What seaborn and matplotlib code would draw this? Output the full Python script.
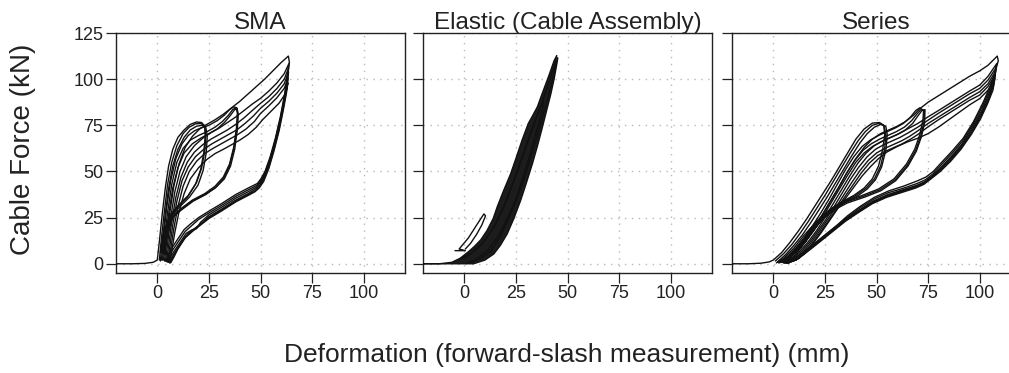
import numpy as np
import pandas as pd
import matplotlib
matplotlib.use("Agg")
import matplotlib.pyplot as plt
import seaborn as sns

# ---------------- data ----------------
panel_titles = ["SMA", "Elastic (Cable Assembly)", "Series"]
x_ticks = [0, 25, 50, 75, 100]
y_ticks = [0, 25, 50, 75, 100, 125]
x_label = "Deformation (forward-slash measurement) (mm)"
y_label = "Cable Force (kN)"

# --- SMA panel: small cycles (peak ~76 kN) ---
sma_s1_x = [-20, -12, -6, -2, 0, 1, 2.5, 4, 5.5, 7.5, 10, 13, 16, 19, 21.5, 23, 23.2, 22.5, 21, 18.5, 14.5, 10, 6, 3, 1.5]
sma_s1_y = [0, 0, 0.2, 0.8, 2, 12, 28, 42, 53, 62, 68.5, 72.5, 75.5, 76.8, 76.5, 74.5, 69, 60, 51, 43, 36, 31, 26, 17, 6]
sma_s2_x = [1, 2, 3.5, 5, 7, 9.5, 12.5, 15.5, 18.5, 21, 22.8, 23.5, 23, 21.5, 19, 15, 10.5, 6.5, 3.5, 2]
sma_s2_y = [2, 14, 29, 43, 55, 64, 70.5, 74, 75.8, 76, 75, 70, 61, 52, 44, 37, 32, 27, 18, 7]
sma_s3_x = [1.5, 2.5, 4, 5.5, 7.5, 10, 13, 16, 19, 21.5, 23.5, 24.2, 23.7, 22.2, 19.7, 15.5, 11, 7, 4, 2.5]
sma_s3_y = [1.5, 13, 28, 41, 53, 62, 68.5, 72.5, 74.5, 75, 74, 69, 60, 50.5, 42.5, 36, 31, 26.5, 18, 7.5]
# --- SMA panel: medium cycles (peak ~85 kN) ---
sma_m1_x = [2, 3, 4.5, 6.5, 9, 12, 15, 18, 21, 25, 29, 32.5, 35, 37, 38.5, 39, 38.5, 37, 35, 32, 28, 23, 17, 11, 7, 4, 2.5]
sma_m1_y = [2, 14, 30, 45, 57, 65, 69.5, 72, 73.5, 75, 77.5, 80.5, 83.5, 85, 84.5, 81, 72, 62, 53, 46, 41, 37.5, 34, 29, 25, 16, 6]
sma_m2_x = [2.5, 3.5, 5, 7, 9.5, 12.5, 16, 20, 24, 28, 31.5, 34.5, 36.5, 38, 38.8, 38.4, 37, 35, 32, 28, 23, 17, 11, 7, 4.5, 3]
sma_m2_y = [2, 13, 28, 43, 55, 62.5, 67, 69.5, 71.5, 74, 77, 80.5, 83.5, 84.5, 82, 74, 63, 54, 47, 42, 38, 34.5, 29.5, 25.5, 16.5, 6]
sma_m3_x = [3, 4, 5.5, 7.5, 10, 13, 17, 21, 25, 29, 32.5, 35.5, 37.5, 38.7, 39.2, 38.8, 37.5, 35.5, 32.5, 28.5, 23.5, 17.5, 11.5, 7.5, 5, 3.5]
sma_m3_y = [2, 12, 27, 41, 52, 60, 65, 68, 70.5, 73, 76.5, 80.5, 83.5, 84, 81, 73, 62, 53, 46, 41.5, 37.5, 34, 29, 25, 16, 5]
# --- SMA panel: large cycles (peak ~98-112 kN) ---
sma_l1_x = [3.5, 4.5, 6, 8, 10.5, 13.5, 17, 20.5, 24, 28, 32, 36, 40, 44, 48, 52, 56, 60, 63.5,
            64, 63.2, 61.7, 59.7, 57.2, 54.7, 52.2, 50.2, 48.5, 44, 38, 31, 25, 20, 16, 13, 10, 7, 5, 4]
sma_l1_y = [1.5, 12, 27, 42, 54, 63, 69, 73, 75.5, 78, 81, 84.5, 88, 92, 96, 100, 104.5, 109, 112.5,
            109, 103, 92, 80, 68, 58, 50, 46, 43.5, 41, 37.5, 32.5, 28.5, 25, 21.5, 18.5, 13.5, 8.5, 4, 1.5]
sma_l2_x = [4, 5, 6.5, 8.5, 11, 14, 18, 22, 26, 30, 34, 38, 42, 46, 50, 54, 58, 61.5, 63.8,
            63, 61.5, 59.5, 57, 54.5, 52, 50, 48.3, 44, 38, 31, 25, 20, 16.5, 13.5, 10.5, 7.5, 5.5, 4.5]
sma_l2_y = [1.5, 11, 25, 39, 50, 58, 64, 68, 71, 73.5, 76.5, 79.5, 83, 86.5, 89.6, 93.5, 98, 103, 108.5,
            100, 90, 78, 66, 56.5, 49, 45, 42.5, 40, 36.5, 31.5, 27.5, 24, 20.5, 17.5, 12.5, 7.5, 3.5, 1.2]
sma_l3_x = [4.5, 5.5, 7, 9, 11.5, 14.5, 18, 22, 26, 30, 34, 38, 42, 46, 50, 54, 58, 61.5, 63.6,
            62.8, 61.2, 59.2, 56.8, 54.2, 51.8, 49.8, 48, 44, 38, 31, 25, 21, 19, 17, 14, 11, 8, 6, 5]
sma_l3_y = [1.2, 10, 23, 36, 47, 55, 60.5, 64.5, 67.5, 70, 72.5, 75.5, 79, 83, 86.9, 90.5, 95, 100, 106,
            97, 87, 76, 65, 55, 48, 44, 41.5, 39, 35.5, 30.5, 26.5, 22.5, 19, 18.5, 16.5, 11.5, 6.5, 3, 1]
sma_l4_x = [5, 6, 7.5, 9.5, 12, 15, 18.5, 22.5, 26.5, 30.5, 34.5, 38.5, 42.5, 46.5, 50, 54, 58, 61.5, 63.6,
            62.7, 61, 59, 56.5, 54, 51.5, 49.5, 47.7, 44, 38, 31, 25, 21.5, 18, 15, 12, 9, 6.5, 5.5]
sma_l4_y = [1, 9, 21, 34, 45, 52.5, 58, 62, 65, 67.5, 70, 72.5, 76, 80, 84.2, 88, 92.5, 97.5, 104,
            95, 85, 74, 63, 53.5, 46.5, 42.5, 40.5, 38, 34.5, 29.5, 25.5, 22, 19, 16.5, 12, 7, 2.5, 0.8]
sma_l5_x = [5.5, 6.5, 8, 10, 12.5, 15.5, 19, 23, 27, 31, 35, 39, 43, 47, 50, 54, 58, 61.5, 63.4,
            62.6, 61, 59, 56.5, 54, 51.5, 49.5, 47.5, 44, 38, 31, 25, 21, 17, 13.5, 10, 7.5, 6]
sma_l5_y = [0.8, 8, 19, 31, 42, 50, 55.5, 59.7, 62.5, 65, 67.5, 70, 73, 77, 81.4, 85.5, 90, 95, 100.5,
            94, 84, 73, 62, 52.5, 45.5, 41.5, 39.5, 37.5, 34, 29, 25, 21.5, 18, 14.5, 8.5, 3.5, 0.5]
sma_l6_x = [6, 7, 8.5, 10.5, 13, 16, 20, 24, 28, 32, 36, 40, 44, 48, 51, 55, 59, 62, 63.3,
            62.5, 61, 59, 56.5, 54, 51.5, 49.3, 47.3, 44, 38, 31, 25, 21, 17, 13.5, 10, 8, 6.5]
sma_l6_y = [0.5, 7, 17, 28, 38, 46, 52, 56.5, 59.7, 62, 64.5, 67, 70, 74, 78, 82.5, 87, 92, 98,
            92, 83, 72, 61, 51.5, 44.5, 41, 39, 37, 33.5, 28.5, 24.5, 21, 17.5, 14, 8, 3.5, 0.5]

# --- Elastic panel: envelope of the dense loops and one small loop ---
el_load_x = [-20, -12, -6, -2, 2, 5, 8, 11, 14, 16, 19, 22.4, 25, 28, 31, 33, 35.4, 38, 41, 43.5, 44.8]
el_load_y = [0, 0, 0.8, 3, 6.5, 9.5, 13, 18, 24.5, 31, 39.5, 48.6, 57, 67, 76, 80, 85, 93, 102, 110, 112.8]
el_unload_x = [45.3, 44.8, 43.5, 42, 40, 37.9, 35.5, 33, 30, 27.3, 24, 20.8, 17.5, 14.3, 10, 4.5, -20]
el_unload_y = [111.5, 108, 100, 92.3, 83.5, 74.2, 64, 54.2, 43.5, 34.3, 24.5, 16.2, 10, 5.3, 2, 0, 0]
el_mid1_x = [-2, 3, 8, 13, 18, 23, 28, 32, 36, 40, 43, 44.5, 43.5, 41, 38, 35, 32, 29, 25, 21, 17, 13, 8, 3]
el_mid1_y = [2.5, 5.5, 10, 17.5, 28, 42, 57, 70, 82, 95, 105, 110, 103, 92, 80, 68, 57, 46, 34, 23, 14, 7, 3, 0.5]
el_mid2_x = [0, 5, 10, 15, 20, 25, 29, 33, 36.5, 38.5, 37.5, 35, 32, 28.5, 25, 21, 17, 12, 6, 1]
el_mid2_y = [3, 7, 12.5, 21, 33, 48, 61, 74, 84, 88, 82, 72, 60, 47, 35, 25, 16, 8, 2.5, 0.3]
el_small_x = [-4.5, 0.5, -2.5, 2, 6, 9.5, 10.3, 8.5, 6, 3, 0.5]
el_small_y = [7.1, 7.1, 8, 14, 21, 27, 26, 21, 16, 11, 8]

# --- Series panel: small cycles ---
ser_s1_x = [-20, -12, -6, -2, 0, 4, 8, 12, 16, 20, 24, 28, 32, 36, 40, 44, 48, 51.5, 53.5, 54, 53, 51, 48, 44, 39, 33, 27, 21, 15, 10, 5, 1.5]
ser_s1_y = [0, 0, 0.3, 1, 2, 6, 11.5, 17.5, 24, 31, 38, 45, 52.5, 60, 67.5, 73, 76.2, 76.5, 75, 70, 62, 53, 46, 41, 37, 33.5, 29, 23, 15.5, 8.5, 3, 0.5]
ser_s2_x = [1, 5, 9, 13, 17, 21, 25, 29, 33, 37, 41, 44.5, 48, 51, 53.5, 54.5, 54, 52, 49, 45, 40, 34, 28, 22, 16, 11, 6, 2.5]
ser_s2_y = [1.5, 5.5, 10.5, 16.5, 23, 30, 37, 44.5, 52, 59.5, 66.5, 71.5, 75, 76, 75, 70.5, 62.5, 53, 46, 41, 37, 33.5, 29, 23, 15.5, 8.5, 3, 0.5]
ser_s3_x = [2, 6, 10, 14, 18, 22, 26, 30, 34, 38, 42, 45.5, 49, 52, 54.5, 55.2, 54.6, 52.5, 49.5, 45.5, 40.5, 34.5, 28.5, 22.5, 16.5, 11.5, 6.5, 3]
ser_s3_y = [1, 5, 10, 15.5, 22, 29, 36, 43.5, 51, 58.5, 65.5, 70.5, 74, 75.5, 74.5, 70, 62, 52.5, 45.5, 40.5, 36.5, 33, 28.5, 22.5, 15, 8, 2.5, 0.5]
# --- Series panel: medium cycles ---
ser_m1_x = [3, 7, 11, 15, 19, 23, 27, 31, 35, 39, 43, 47, 51, 55, 59, 63, 66.5, 69, 71, 72.8, 72.5, 71, 68.5, 64.5, 58.5, 51, 43, 35, 29, 24, 19, 14, 9, 4]
ser_m1_y = [0.8, 4, 8.5, 14, 20.5, 27.5, 35, 43, 51, 58, 63.5, 67, 69.5, 71.5, 73.5, 76, 79.5, 83, 84.5, 83, 78, 70, 62, 54, 46, 40.5, 37, 34, 30.5, 26.5, 20, 12, 5, 1]
ser_m2_x = [3.5, 7.5, 11.5, 15.5, 19.5, 23.5, 27.5, 31.5, 35.5, 39.5, 43.5, 47.5, 51.5, 55.5, 59.5, 63.5, 67, 69.5, 71.5, 73.2, 73, 71.5, 69, 65, 59, 51.5, 43.5, 35.5, 29.5, 24.5, 19.5, 14.5, 9.5, 4.5]
ser_m2_y = [0.8, 3.5, 8, 13, 19, 26, 33.5, 41, 49, 56, 61.5, 65, 67.5, 69.5, 71.5, 74, 77.5, 81, 83.5, 83, 77, 69.5, 61.5, 53.5, 45.5, 40, 36.5, 33.5, 30, 26, 19.5, 11.5, 4.5, 0.8]
ser_m3_x = [4, 8, 12, 16, 20, 24, 28, 32, 36, 40, 44, 48, 52, 56, 60, 64, 67.5, 70, 72, 73.5, 73.3, 71.8, 69.3, 65.3, 59.3, 52, 44, 36, 30, 25, 20, 15, 10, 5]
ser_m3_y = [0.8, 3.5, 7.5, 12.5, 18.5, 25.5, 33, 40.5, 48, 55, 60, 63.5, 66, 68, 70, 72.5, 76, 80, 83, 83.5, 76.5, 69, 61, 53, 45, 39.5, 36, 33, 29.5, 25.5, 19, 11, 4, 0.7]
# --- Series panel: large cycles ---
ser_l1_x = [4, 8, 12, 16, 20, 24, 28, 32, 36, 40, 44, 48, 52, 56, 60, 64, 68, 71, 75, 80, 85, 90, 95, 100, 104, 108.5,
            109, 107.5, 105, 101.5, 97, 92, 87, 82, 77.5, 74, 70, 63, 56, 49, 42, 36, 31, 26, 21, 17, 13, 9, 5]
ser_l1_y = [0.8, 3.8, 8, 13.5, 20, 27, 34.5, 42, 50, 57, 63, 67.5, 70.5, 72.5, 74.5, 77, 80.5, 84, 87.5, 91, 94.5, 98, 101.5, 104.5, 107.5, 112.5,
            110, 104, 96, 87, 77, 68, 61.5, 55.5, 50, 47, 45, 42, 39.5, 36, 31, 26, 21, 16.5, 12, 8.5, 5, 2, 0.5]
ser_l2_x = [5, 9, 13, 17, 21, 25, 29, 33, 37, 41, 45, 49, 53, 57, 61, 65, 70, 75, 80, 85, 90, 95, 100, 104, 108.3,
            107.2, 104.7, 101.2, 96.7, 91.7, 86.7, 81.7, 77.2, 73.7, 69.7, 62.7, 55.7, 48.7, 41.7, 35.7, 30.7, 25.7, 20.7, 16.7, 12.7, 8.7, 5.5]
ser_l2_y = [0.5, 3, 7, 12, 18, 25, 32.5, 40, 47.5, 54.5, 60, 64, 66.5, 68.5, 70.5, 73, 76, 79.6, 83, 86.5, 90, 93.5, 96.8, 101.5, 108.5,
            102, 94, 85, 75.5, 66.5, 60, 54, 48.5, 45.5, 43.5, 40.8, 38.5, 35, 30, 25, 20.5, 16, 11.5, 8, 4.5, 1.8, 0.4]
ser_l3_x = [5.5, 9.5, 13.5, 17.5, 21.5, 25.5, 29.5, 33.5, 37.5, 41.5, 45.5, 49.5, 53.5, 57.5, 61.5, 65.5, 70, 75, 80, 85, 90, 95, 100, 104, 108.1,
            107, 104.5, 101, 96.5, 91.5, 86.5, 81.5, 77, 73.5, 69.5, 62.5, 55.5, 48.5, 41.5, 35.5, 30.5, 25.5, 20.5, 16.5, 12.5, 8.5, 6]
ser_l3_y = [0.5, 2.8, 6.5, 11.5, 17.5, 24, 31, 38.5, 46, 52.5, 58, 62, 64.5, 66.5, 68.5, 71, 74, 77.8, 81.5, 85, 88.5, 92, 95, 99.5, 106.5,
            100, 92, 83, 74, 65, 58.5, 52.5, 47.5, 44.5, 42.5, 40, 37.5, 34, 29, 24.5, 20, 15.5, 11, 7.5, 4, 1.5, 0.4]
ser_l4_x = [6, 10, 14, 18, 22, 26, 30, 34, 38, 42, 46, 50, 54, 58, 62, 66, 70, 75, 80, 85, 90, 95, 100, 104, 107.8,
            106.8, 104.3, 100.8, 96.3, 91.3, 86.3, 81.3, 76.8, 73.3, 69.3, 62.3, 55.3, 48.3, 41.3, 35.3, 30.3, 25.3, 20.3, 16.3, 12.3, 8.3, 6.5]
ser_l4_y = [0.5, 2.5, 6, 11, 17, 23.5, 30, 37, 44, 50.5, 56, 60, 62.5, 64.5, 66.5, 69, 72, 76, 79.5, 83, 86.5, 90, 93.2, 97.5, 104.5,
            98, 90, 81.5, 72.5, 64, 57.5, 51.5, 47, 44, 42, 39.5, 37, 33.5, 28.5, 24, 19.5, 15, 10.5, 7, 3.5, 1.2, 0.3]
ser_l5_x = [6.5, 10.5, 14.5, 18.5, 22.5, 26.5, 30.5, 34.5, 38.5, 42.5, 46.5, 50.5, 54.5, 58.5, 62.5, 66.5, 70, 75, 80, 85, 90, 95, 100, 104, 107.6,
            106.6, 104.1, 100.6, 96.1, 91.1, 86.1, 81.1, 76.6, 73.1, 69.1, 62.1, 55.1, 48.1, 41.1, 35.1, 30.1, 25.1, 20.1, 16.1, 12.1, 8.1, 7]
ser_l5_y = [0.5, 2.2, 5.5, 10.5, 16.5, 23, 29.5, 36, 42.5, 49, 54.5, 58.5, 61, 63, 65, 67.5, 70, 74.2, 78, 81.5, 85, 88.5, 91.4, 96, 102.5,
            96, 88.5, 80, 71, 63, 56.5, 51, 46.5, 43.5, 41.5, 39, 36.5, 33, 28, 23.5, 19, 14.5, 10, 6.5, 3, 1, 0.3]
ser_l6_x = [7, 11, 15, 19, 23, 27, 31, 35, 39, 43, 47, 51, 55, 60, 65, 70, 75, 80, 85, 90, 95, 100, 104, 107.4,
            106.4, 103.9, 100.4, 95.9, 90.9, 85.9, 80.9, 76.4, 72.9, 68.9, 61.9, 54.9, 47.9, 40.9, 34.9, 29.9, 24.9, 19.9, 15.9, 11.9, 8, 7.5]
ser_l6_y = [0.5, 2, 5.5, 10.5, 16.5, 23, 29.5, 35.5, 41.5, 47.5, 52.5, 57, 60.5, 63.5, 66, 68, 70.5, 74, 78, 82, 86, 89.5, 94, 100.5,
            94, 87, 78.5, 70, 62, 55.5, 50, 46, 43, 41, 38.5, 36, 32.5, 27.5, 23, 18.5, 14, 9.5, 6, 2.5, 0.8, 0.3]

# ---------------- assemble long-form tables ----------------
def build(cycles):
    frames = []
    for cid, (xs, ys) in enumerate(cycles):
        frames.append(pd.DataFrame({"cycle": cid, "order": np.arange(len(xs)),
                                    "deformation": xs, "force": ys}))
    return pd.concat(frames, ignore_index=True)

sma_df = build([(sma_s1_x, sma_s1_y), (sma_s2_x, sma_s2_y), (sma_s3_x, sma_s3_y),
                (sma_m1_x, sma_m1_y), (sma_m2_x, sma_m2_y), (sma_m3_x, sma_m3_y),
                (sma_l1_x, sma_l1_y), (sma_l2_x, sma_l2_y), (sma_l3_x, sma_l3_y),
                (sma_l4_x, sma_l4_y), (sma_l5_x, sma_l5_y), (sma_l6_x, sma_l6_y)])
el_df = build([(el_load_x, el_load_y), (el_unload_x, el_unload_y),
               (el_mid1_x, el_mid1_y), (el_mid2_x, el_mid2_y), (el_small_x, el_small_y)])
ser_df = build([(ser_s1_x, ser_s1_y), (ser_s2_x, ser_s2_y), (ser_s3_x, ser_s3_y),
                (ser_m1_x, ser_m1_y), (ser_m2_x, ser_m2_y), (ser_m3_x, ser_m3_y),
                (ser_l1_x, ser_l1_y), (ser_l2_x, ser_l2_y), (ser_l3_x, ser_l3_y),
                (ser_l4_x, ser_l4_y), (ser_l5_x, ser_l5_y), (ser_l6_x, ser_l6_y)])

# ---------------- style ----------------
sns.set_theme(style="white")
plt.rcParams["font.family"] = ["Liberation Sans", "DejaVu Sans"]
plt.rcParams["axes.edgecolor"] = "#222222"
plt.rcParams["axes.linewidth"] = 1.0

W, H = 1009, 373
fig = plt.figure(figsize=(W / 100, H / 100), dpi=100)
lefts = [116, 423, 732]
pw, bottom_px, top_px = 289, 273, 33
axes = [fig.add_axes([l / W, 1 - bottom_px / H, pw / W, (bottom_px - top_px) / H]) for l in lefts]

line_kw = dict(x="deformation", y="force", units="cycle", estimator=None, sort=False,
               color="#111111", linewidth=1.0, legend=False)

for i, (ax, df) in enumerate(zip(axes, [sma_df, el_df, ser_df])):
    if i == 1:
        # the dense band of elastic loops is drawn as a filled envelope
        ax.fill(el_load_x + el_unload_x, el_load_y + el_unload_y, color="#1c1c1c", lw=0, zorder=2)
    sns.lineplot(data=df, ax=ax, zorder=3, **line_kw)
    ax.set_xlim(-20, 120)
    ax.set_ylim(-5, 125)
    ax.set_xticks(x_ticks)
    ax.set_yticks(y_ticks)
    ax.set_xticklabels([str(t) for t in x_ticks])
    if i == 0:
        ax.set_yticklabels([str(t) for t in y_ticks])
    else:
        ax.set_yticklabels([])
    ax.grid(True, color="#b8b8b8", linestyle=(0, (1, 4)), linewidth=1.0)
    ax.set_axisbelow(True)
    ax.tick_params(axis="both", which="major", direction="out", length=7, width=0.9,
                   color="#222222", labelsize=13, labelcolor="#222222", pad=2,
                   bottom=True, left=True)
    ax.set_xlabel("")
    ax.set_ylabel("")
    ax.set_title(panel_titles[i], fontsize=17.5, color="#222222", pad=3)
    for s in ax.spines.values():
        s.set_visible(True)
        s.set_color("#222222")

fig.text(23 / W, 1 - 149 / H, y_label, rotation=90, ha="center", va="center",
         fontsize=20, color="#222222")
fig.text(567 / W, 1 - 355 / H, x_label, ha="center", va="center", fontsize=19, color="#222222")

fig.savefig("out.png", dpi=100)
